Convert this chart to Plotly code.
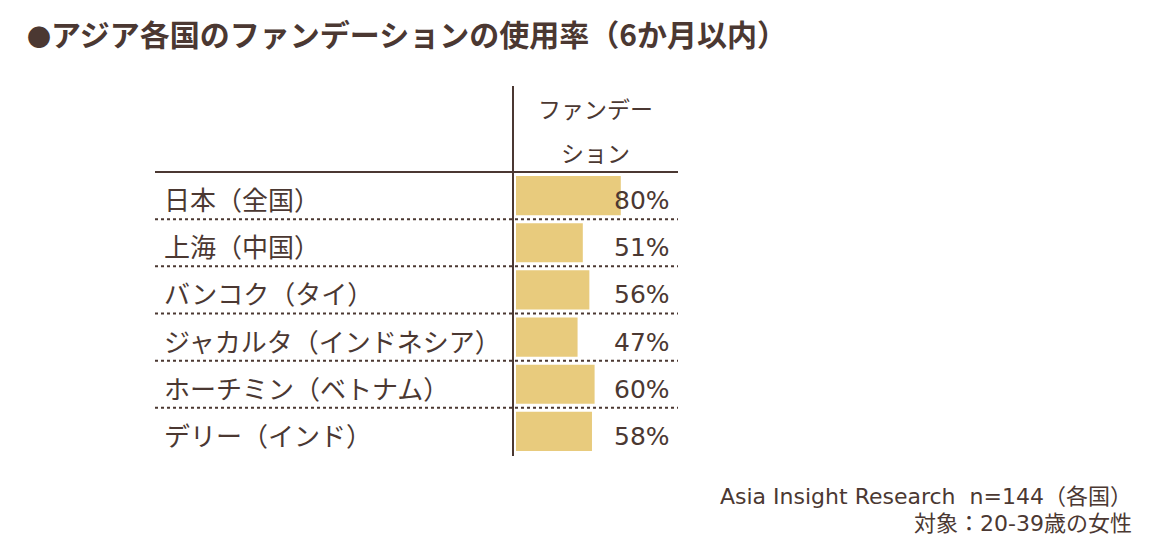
import plotly.graph_objects as go

W, H = 1151, 551
bullet = "●"
title = "アジア各国のファンデーションの使用率（6か月以内）"
header_lines = ["ファンデー", "ション"]
categories = ["日本（全国）", "上海（中国）", "バンコク（タイ）", "ジャカルタ（インドネシア）", "ホーチミン（ベトナム）", "デリー（インド）"]
values = [80, 51, 56, 47, 60, 58]
notes = ["Asia Insight Research  n=144（各国）", "対象：20-39歳の女性"]

TXT = "#4b3832"
BAR = "#E8CB7D"
FONT = "Noto Sans CJK JP"
MIX = "DejaVu Sans, Noto Sans CJK JP"

def px(x):
    return x / W

def py(y):
    return (H - y) / H

fig = go.Figure()
fig.add_trace(go.Bar(
    x=values, y=categories, orientation="h",
    marker=dict(color=BAR, line=dict(width=0)),
    width=0.83, hoverinfo="skip",
))

x0, x1 = 516, 678
ppu = 1.31
fig.update_layout(
    width=W, height=H, autosize=False,
    margin=dict(l=0, r=0, t=0, b=0),
    paper_bgcolor="white", plot_bgcolor="white",
    showlegend=False,
    font=dict(family=FONT, color=TXT),
    xaxis=dict(domain=[px(x0), px(x1)], range=[0, (x1 - x0) / ppu],
               showgrid=False, zeroline=False, showticklabels=False, showline=False, fixedrange=True),
    yaxis=dict(domain=[py(455), py(172)], type="category", categoryarray=categories,
               autorange="reversed", showgrid=False, zeroline=False, showticklabels=False,
               showline=False, fixedrange=True),
)

anns = []
for c, v in zip(categories, values):
    anns.append(dict(x=px(162), xref="paper", y=c, yref="y", text=c, showarrow=False,
                     xanchor="left", yanchor="middle", yshift=-3,
                     font=dict(size=26, color=TXT, family=FONT)))
    anns.append(dict(x=px(672), xref="paper", y=c, yref="y", text=f"{v}%", showarrow=False,
                     xanchor="right", yanchor="middle", yshift=-5,
                     font=dict(size=25, color=TXT, family="DejaVu Sans")))
for i, (t, yy) in enumerate(zip(header_lines, [108, 152])):
    anns.append(dict(x=px(595), xref="paper", y=py(yy), yref="paper", text=t, showarrow=False,
                     xanchor="center", yanchor="middle",
                     font=dict(size=23, color=TXT, family=FONT)))
anns.append(dict(x=px(25), xref="paper", y=py(33), yref="paper",
                 text=f"<b><span style='font-size:24px'>{bullet}</span>{title}</b>",
                 showarrow=False, xanchor="left", yanchor="middle",
                 font=dict(size=30, color=TXT, family=FONT)))
for t, yy in zip(notes, [496, 523]):
    anns.append(dict(x=px(1134), xref="paper", y=py(yy), yref="paper", text=t, showarrow=False,
                     xanchor="right", yanchor="middle",
                     font=dict(size=22, color=TXT, family=MIX)))

shapes = []
# header line
shapes.append(dict(type="line", xref="paper", yref="paper", x0=px(155), x1=px(678),
                   y0=py(172), y1=py(172), line=dict(color=TXT, width=2)))
# dotted row separators
for i in range(len(categories) - 1):
    shapes.append(dict(type="line", xref="paper", yref="y", x0=px(155), x1=px(678),
                       y0=i + 0.5, y1=i + 0.5, line=dict(color=TXT, width=2, dash="dot")))
# vertical line
shapes.append(dict(type="line", xref="paper", yref="paper", x0=px(513), x1=px(513),
                   y0=py(86), y1=py(456), line=dict(color=TXT, width=2)))

fig.update_layout(annotations=anns, shapes=shapes)
fig.write_html("out.html")
